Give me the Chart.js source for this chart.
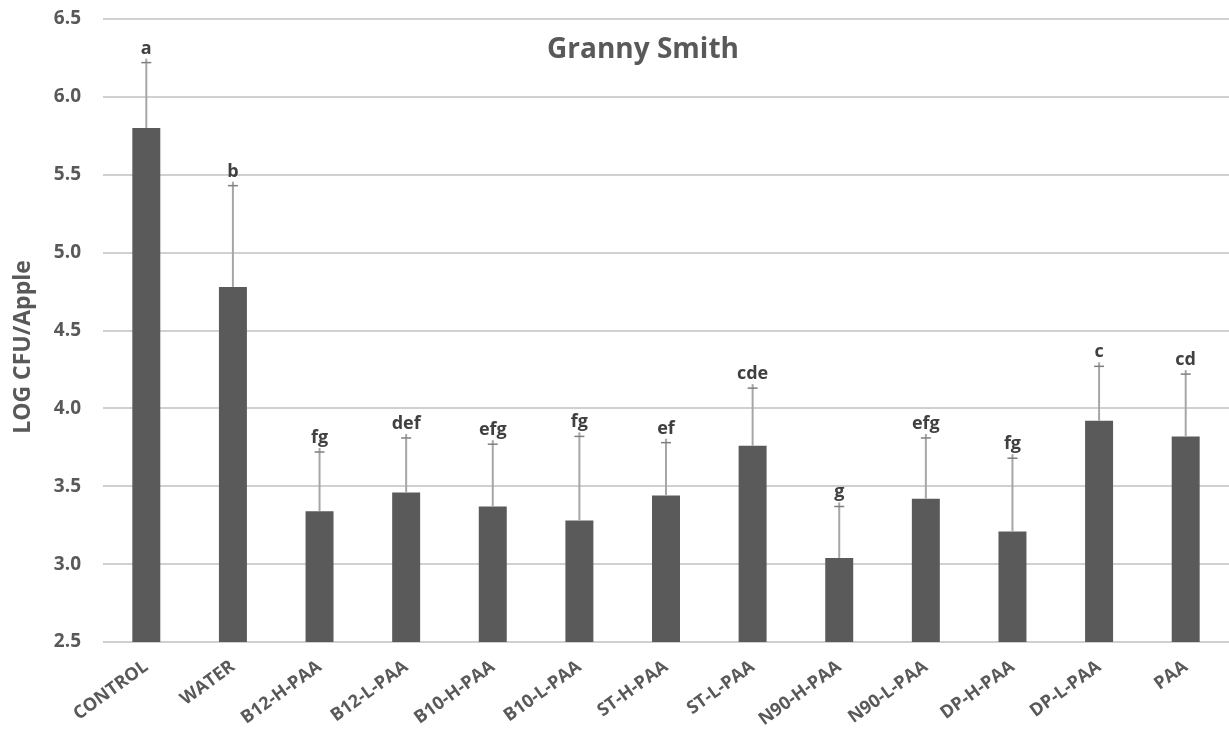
<!DOCTYPE html>
<html>
<head>
<meta charset="utf-8">
<script src="https://cdn.jsdelivr.net/npm/chart.js@4/dist/chart.umd.min.js"></script>
<style>
html,body{margin:0;padding:0;background:#fff;}
canvas{display:block;}
</style>
</head>
<body>
<canvas id="c" width="1229" height="735"></canvas>
<script>
const categories = ["CONTROL","WATER","B12-H-PAA","B12-L-PAA","B10-H-PAA","B10-L-PAA","ST-H-PAA","ST-L-PAA","N90-H-PAA","N90-L-PAA","DP-H-PAA","DP-L-PAA","PAA"];
const means = [5.80, 4.78, 3.34, 3.46, 3.37, 3.28, 3.44, 3.76, 3.04, 3.42, 3.21, 3.92, 3.82];
const errors = [0.42, 0.65, 0.38, 0.35, 0.40, 0.54, 0.34, 0.37, 0.33, 0.39, 0.47, 0.35, 0.40];
const letters = ["a","b","fg","def","efg","fg","ef","cde","g","efg","fg","c","cd"];
const yTicks = [2.5, 3.0, 3.5, 4.0, 4.5, 5.0, 5.5, 6.0, 6.5];
const chartTitle = "Granny Smith";
const yTitle = "LOG CFU/Apple";

const FONT = "'Open Sans', 'DejaVu Sans', sans-serif";
const TEXT = "#595959";

const overlay = {
  id: 'overlay',
  afterDatasetsDraw(chart) {
    const ctx = chart.ctx;
    const ys = chart.scales.y;
    const meta = chart.getDatasetMeta(0);
    ctx.save();
    meta.data.forEach((bar, i) => {
      const x = bar.x;
      const yb = ys.getPixelForValue(means[i]);
      const yt = ys.getPixelForValue(means[i] + errors[i]);
      ctx.strokeStyle = "#a6a6a6";
      ctx.lineWidth = 2;
      ctx.beginPath();
      ctx.moveTo(x, yb);
      ctx.lineTo(x, yt - 4);
      ctx.stroke();
      ctx.strokeStyle = "#7f7f7f";
      ctx.lineWidth = 1.5;
      ctx.beginPath();
      ctx.moveTo(x - 5, yt);
      ctx.lineTo(x + 5, yt);
      ctx.stroke();
      ctx.fillStyle = "#404040";
      ctx.font = "bold 18px " + FONT;
      ctx.textAlign = "center";
      ctx.textBaseline = "alphabetic";
      ctx.fillText(letters[i], x, yt - 9);
    });
    ctx.fillStyle = TEXT;
    ctx.font = "bold 28px " + FONT;
    ctx.textAlign = "center";
    ctx.textBaseline = "middle";
    ctx.fillText(chartTitle, 643, 50);
    ctx.font = "bold 23px " + FONT;
    ctx.translate(23, 347);
    ctx.rotate(-Math.PI / 2);
    ctx.fillText(yTitle, 0, 0);
    ctx.restore();
  }
};

new Chart(document.getElementById('c'), {
  type: 'bar',
  data: {
    labels: categories,
    datasets: [{
      data: means,
      backgroundColor: "#5a5a5a",
      borderWidth: 0,
      categoryPercentage: 1.0,
      barPercentage: 0.323
    }]
  },
  options: {
    responsive: false,
    animation: false,
    devicePixelRatio: 1,
    layout: { padding: { top: 19, right: 0, bottom: 0, left: 0 } },
    plugins: { legend: { display: false }, tooltip: { enabled: false }, title: { display: false } },
    scales: {
      x: {
        grid: { display: false, drawTicks: false },
        border: { display: false },
        ticks: {
          color: TEXT,
          font: { family: FONT, size: 18, weight: 'bold' },
          minRotation: 36, maxRotation: 36,
          padding: 14,
          autoSkip: false
        },
        afterFit(scale) { scale.height = 93; }
      },
      y: {
        min: 2.5, max: 6.5,
        afterBuildTicks(scale) { scale.ticks = yTicks.map(v => ({ value: v })); },
        grid: { color: "#d0d0d0", lineWidth: 2, drawTicks: true, tickLength: 22, tickColor: "rgba(0,0,0,0)" },
        border: { display: false },
        ticks: {
          color: TEXT,
          font: { family: FONT, size: 19, weight: 'bold' },
          padding: 0,
          callback: v => Number(v).toFixed(1)
        },
        afterFit(scale) { scale.width = 103; }
      }
    }
  },
  plugins: [overlay]
});
</script>
</body>
</html>
